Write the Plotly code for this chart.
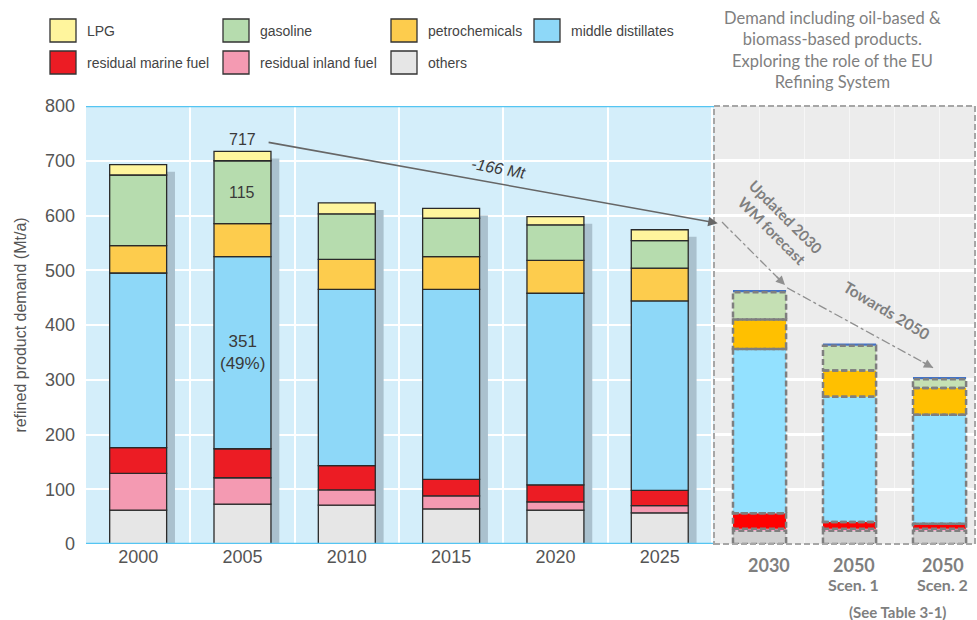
import numpy as np
import plotly.graph_objects as go

# historic demand (Mt/a), bottom -> top
years = ['2000', '2005', '2010', '2015', '2020', '2025']
others = [62, 73, 71, 64, 62, 57]
inland = [67, 48, 28, 24, 15, 13]
marine = [47, 53, 44, 30, 31, 28]
middle = [319, 351, 322, 347, 350, 346]
petro = [50, 60, 55, 60, 60, 60]
gasoline = [129, 115, 83, 70, 65, 50]
lpg = [19, 17, 20, 18, 15, 20]

# outlook bars
scen_years = ['2030', '2050', '2050']
scen_sub = ['', 'Scen. 1', 'Scen. 2']
s_others = [24, 24, 24]
s_inland = [4, 4, 4]
s_marine = [28, 12, 9]
s_middle = [300, 229, 199]
s_petro = [54, 48, 49]
s_gasoline = [50, 45, 16]
s_top = [4, 4, 4]

W, H = 977, 620
L, R, T, B = 86, 2, 106, 76
split = (714 - L) / (W - L - R)

def px_x(p):
    return (p - L) / (W - L - R)

def px_y(p):
    return (H - B - p) / (H - T - B)

left_series = [
    ('others', others, '#E6E6E6'),
    ('residual inland fuel', inland, '#F49AB2'),
    ('residual marine fuel', marine, '#EC1C24'),
    ('middle distillates', middle, '#8ED8F8'),
    ('petrochemicals', petro, '#FDCC4D'),
    ('gasoline', gasoline, '#B6DCAE'),
    ('LPG', lpg, '#FFF59D'),
]
right_series = [
    ('others', s_others, '#D0D0D0', True),
    ('residual inland fuel', s_inland, '#FF99C4', False),
    ('residual marine fuel', s_marine, '#FF0000', True),
    ('middle distillates', s_middle, '#93E1FF', True),
    ('petrochemicals', s_petro, '#FFC000', True),
    ('gasoline', s_gasoline, '#C5E0B4', True),
    ('biomass', s_top, '#4472C4', False),
]

fig = go.Figure()
xs = np.arange(len(years))
totals = np.sum([s[1] for s in left_series], axis=0)
bw = 0.546

# bar shadows
fig.add_trace(go.Bar(x=xs, y=totals - 13, base=0, width=0.08, offset=bw / 2,
                     marker=dict(color='#AAC1CE', line=dict(width=0)),
                     xaxis='x', yaxis='y', showlegend=False, hoverinfo='skip'))

base = np.zeros(len(years))
bases = {}
for name, vals, col in left_series:
    bases[name] = base.copy()
    fig.add_trace(go.Bar(x=xs, y=vals, base=base.copy(), width=bw, name=name,
                         marker=dict(color=col, line=dict(color='#2a2a2a', width=1.3)),
                         xaxis='x', yaxis='y', showlegend=False))
    base = base + np.array(vals)

sx = np.arange(len(scen_years))
sw = 0.59
shapes = []
sbase = np.zeros(len(scen_years))
for name, vals, col, outline in right_series:
    fig.add_trace(go.Bar(x=sx, y=vals, base=sbase.copy(), width=sw, name=name,
                         marker=dict(color=col, line=dict(width=0)),
                         xaxis='x2', yaxis='y2', showlegend=False))
    if outline:
        for i in range(len(sx)):
            shapes.append(dict(type='rect', xref='x2', yref='y2', layer='above',
                               x0=sx[i] - sw / 2, x1=sx[i] + sw / 2,
                               y0=sbase[i], y1=sbase[i] + vals[i],
                               line=dict(color='#7F7F7F', width=2.5, dash='6px,3px')))
    sbase = sbase + np.array(vals)

# panel backgrounds and borders
shapes += [
    dict(type='rect', xref='x domain', yref='y domain', x0=0, x1=1, y0=0, y1=1,
         fillcolor='#D4EEFA', line=dict(width=0), layer='below'),
    dict(type='rect', xref='x2 domain', yref='y2 domain', x0=0, x1=1, y0=0, y1=1,
         fillcolor='#ECECEC', line=dict(width=0), layer='below'),
    dict(type='line', xref='x domain', yref='y', x0=0, x1=1, y0=800, y1=800,
         line=dict(color='#55C5F2', width=2.5), layer='above'),
    dict(type='line', xref='x domain', yref='y', x0=0, x1=1, y0=0, y1=0,
         line=dict(color='#55C5F2', width=2.5), layer='above'),
    dict(type='rect', xref='x2 domain', yref='y2 domain', x0=0, x1=1, y0=0, y1=1,
         line=dict(color='#A6A6A6', width=2, dash='6px,3px'), layer='above'),
]

# dash-dot arrows in outlook panel
shapes += [
    dict(type='line', xref='x2', yref='y2', x0=-0.417, y0=588, x1=0.283, y1=473,
         line=dict(color='#909090', width=1.3, dash='dashdot')),
    dict(type='line', xref='x2', yref='y2', x0=0.306, y0=468, x1=1.928, y1=322,
         line=dict(color='#909090', width=1.3, dash='dashdot')),
]

# custom legend
legend_items = [
    ('LPG', '#FFF59D', 0, 0), ('gasoline', '#B6DCAE', 1, 0),
    ('petrochemicals', '#FDCC4D', 2, 0), ('middle distillates', '#8ED8F8', 3, 0),
    ('residual marine fuel', '#EC1C24', 0, 1), ('residual inland fuel', '#F49AB2', 1, 1),
    ('others', '#E6E6E6', 2, 1),
]
col_x = [50, 223, 391, 534]
row_y = [19, 51]
annotations = []
for label, col, c, r in legend_items:
    shapes.append(dict(type='rect', xref='paper', yref='paper',
                       x0=px_x(col_x[c]), x1=px_x(col_x[c] + 26),
                       y0=px_y(row_y[r]), y1=px_y(row_y[r] + 23),
                       fillcolor=col, line=dict(color='#333333', width=1.3)))
    annotations.append(dict(xref='paper', yref='paper', x=px_x(col_x[c] + 35),
                            y=px_y(row_y[r] + 12), text=label, showarrow=False,
                            xanchor='left', yanchor='middle',
                            font=dict(family='Liberation Sans', size=14, color='#444444')))

lab_font = dict(family='Liberation Sans', color='#3a3a3a')
gray_bold = dict(family='Lato', color='#7F7F7F', weight='bold')

annotations += [
    dict(x=1, y=totals[1], xref='x', yref='y', text=str(int(totals[1])), showarrow=False,
         yanchor='bottom', yshift=1, font=dict(size=16, **lab_font)),
    dict(x=1, y=bases['gasoline'][1] + gasoline[1] / 2, xref='x', yref='y',
         text=str(gasoline[1]), showarrow=False, font=dict(size=16, **lab_font)),
    dict(x=1, y=bases['middle distillates'][1] + middle[1] / 2, xref='x', yref='y',
         text='%d<br>(%d%%)' % (middle[1], round(100 * middle[1] / totals[1])),
         showarrow=False, font=dict(size=17, **lab_font)),
    dict(x=5.556, y=586, ax=1.236, ay=734, xref='x', yref='y', axref='x', ayref='y',
         text='', showarrow=True, arrowhead=2, arrowsize=1.2, arrowwidth=1.6,
         arrowcolor='#666666'),
    dict(x=3.458, y=685, xref='x', yref='y', text='<i>-166 Mt</i>', showarrow=False,
         textangle=10.5, font=dict(size=16, **lab_font)),
    dict(x=0.283, y=473, xref='x2', yref='y2', ax=-10, ay=-10, text='',
         showarrow=True, arrowhead=2, arrowsize=1.4, arrowwidth=1.3, arrowcolor='#909090'),
    dict(x=1.928, y=322, xref='x2', yref='y2', ax=-12, ay=-6.5, text='',
         showarrow=True, arrowhead=2, arrowsize=1.4, arrowwidth=1.3, arrowcolor='#909090'),
    dict(x=0.217, y=585, xref='x2', yref='y2', text='Updated 2030<br>WM forecast',
         showarrow=False, textangle=45, font=dict(size=15, **gray_bold)),
    dict(x=1.406, y=427, xref='x2', yref='y2', text='Towards 2050',
         showarrow=False, textangle=31, font=dict(size=15.5, **gray_bold)),
    dict(x=px_x(832), y=px_y(50), xref='paper', yref='paper',
         text='Demand including oil-based &amp;<br>biomass-based products.<br>'
              'Exploring the role of the EU<br>Refining System',
         showarrow=False, align='center', xanchor='center', yanchor='middle',
         font=dict(family='Lato', size=16.5, color='#7F7F7F')),
    dict(x=1.54, y=0, xref='x2', yref='paper', text='(See Table 3-1)', showarrow=False,
         xanchor='center', yanchor='middle', yshift=-68, font=dict(size=15, **gray_bold)),
]
year_shift = [9, 4, 3]
for i in range(len(scen_years)):
    annotations.append(dict(x=sx[i], y=0, xref='x2', yref='paper', text=scen_years[i],
                            showarrow=False, xanchor='center', yanchor='middle', yshift=-21,
                            xshift=year_shift[i], font=dict(size=18, **gray_bold)))
    if scen_sub[i]:
        annotations.append(dict(x=sx[i], y=0, xref='x2', yref='paper', text=scen_sub[i],
                                showarrow=False, xanchor='center', yanchor='middle',
                                yshift=-40, xshift=year_shift[i],
                                font=dict(size=16, **gray_bold)))

fig.update_layout(
    width=W, height=H,
    margin=dict(l=L, r=R, t=T, b=B),
    barmode='overlay',
    paper_bgcolor='white', plot_bgcolor='rgba(0,0,0,0)',
    showlegend=False,
    shapes=shapes, annotations=annotations,
    xaxis=dict(domain=[0, split], range=[-0.5, 5.52], tickvals=list(xs), ticktext=years,
               showgrid=False, zeroline=False, showline=False,
               tickfont=dict(size=18, family='Liberation Sans', color='#555555'),
               minor=dict(tickmode='array', tickvals=list(xs + 0.5), showgrid=True,
                          gridcolor='white', gridwidth=1.5, ticks='')),
    yaxis=dict(domain=[0, 1], range=[0, 800], dtick=100, showgrid=True,
               gridcolor='white', gridwidth=1.5, zeroline=False, showline=False,
               ticklabelstandoff=10,
               tickfont=dict(size=18, family='Liberation Sans', color='#555555'),
               title=dict(text='refined product demand (Mt/a)', standoff=14,
                          font=dict(size=16, family='Liberation Sans', color='#555555'))),
    xaxis2=dict(domain=[split, 1], range=[-0.506, 2.394], anchor='y2',
                tickvals=[-0.5, 0, 0.5, 1, 1.5, 2], showticklabels=False,
                showgrid=True, gridcolor='#F6F6F6', gridwidth=1, zeroline=False),
    yaxis2=dict(domain=[0, 1], range=[0, 800], dtick=100, anchor='x2',
                showticklabels=False, showgrid=True, gridcolor='white', gridwidth=3,
                zeroline=False),
)

fig.write_html('out.html', config={'displayModeBar': False},
               post_script="document.body.style.margin='0';")
